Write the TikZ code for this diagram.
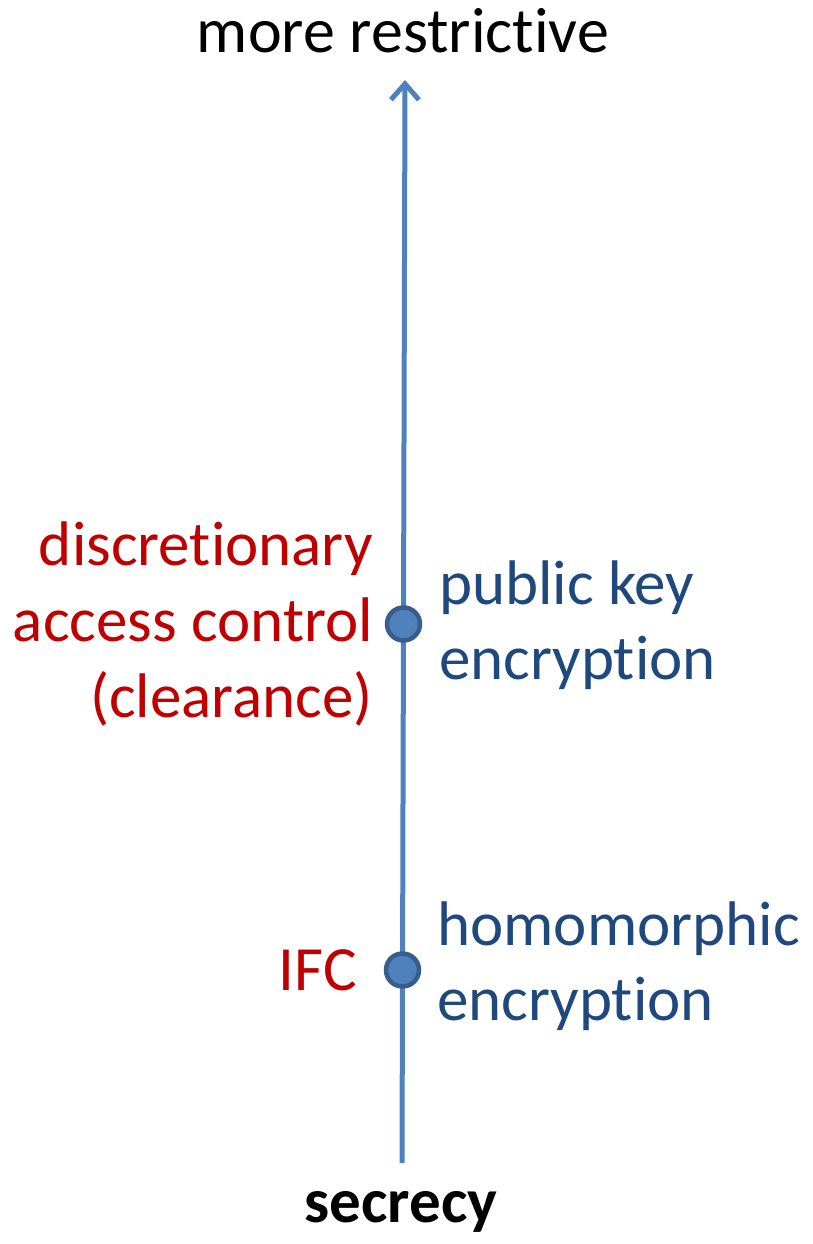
\documentclass[tikz,border=0pt]{standalone}
\usepackage{fontspec}
\setmainfont{Carlito}[Ligatures=NoCommon]
\usetikzlibrary{arrows.meta}
\definecolor{axisblue}{HTML}{4F81BD}
\definecolor{dotborder}{HTML}{385D8A}
\definecolor{textblue}{HTML}{1F497D}
\definecolor{textred}{HTML}{C00000}
\tikzset{
  axis/.style={draw=axisblue, line width=5pt, -{Straight Barb[length=16pt,width=28pt,line width=5pt]}},
  dot/.style={circle, draw=dotborder, fill=axisblue, line width=4.5pt, minimum size=33pt, inner sep=0pt},
  lbl/.style={inner sep=0pt, font=\fontsize{63}{75}\selectfont},
  redlbl/.style={lbl, text=textred, align=right, font=\fontsize{63}{76}\selectfont},
  bluelbl/.style={lbl, text=textblue, align=left},
}
\begin{document}
\begin{tikzpicture}[x=1pt,y=-1pt]
\useasboundingbox (0,0) rectangle (813,1244);
\coordinate (bot) at (402,1163);
\coordinate (tip) at (405,80);
\draw[axis] (bot) -- (tip);
\node[dot] (d1) at (403.5,624) {};
\node[dot] (d2) at (402.5,970) {};
\node[lbl, anchor=base, font=\fontsize{64}{75}\selectfont] (top) at (403,53) {more restrictive};
\node[lbl, anchor=base, font=\fontsize{63}{74}\selectfont\bfseries] (sec) at (401,1222) {secrecy};
\node[redlbl, anchor=north east] (dac) at (373,522) {discretionary\\access control\\(clearance)};
\node[lbl, text=textred, anchor=base east] (ifc) at (357,990) {IFC};
\node[bluelbl, anchor=north west] (pke) at (439,561) {public key\\encryption};
\node[bluelbl, anchor=north west] (he) at (437,902) {homomorphic\\encryption};
\end{tikzpicture}
\end{document}
